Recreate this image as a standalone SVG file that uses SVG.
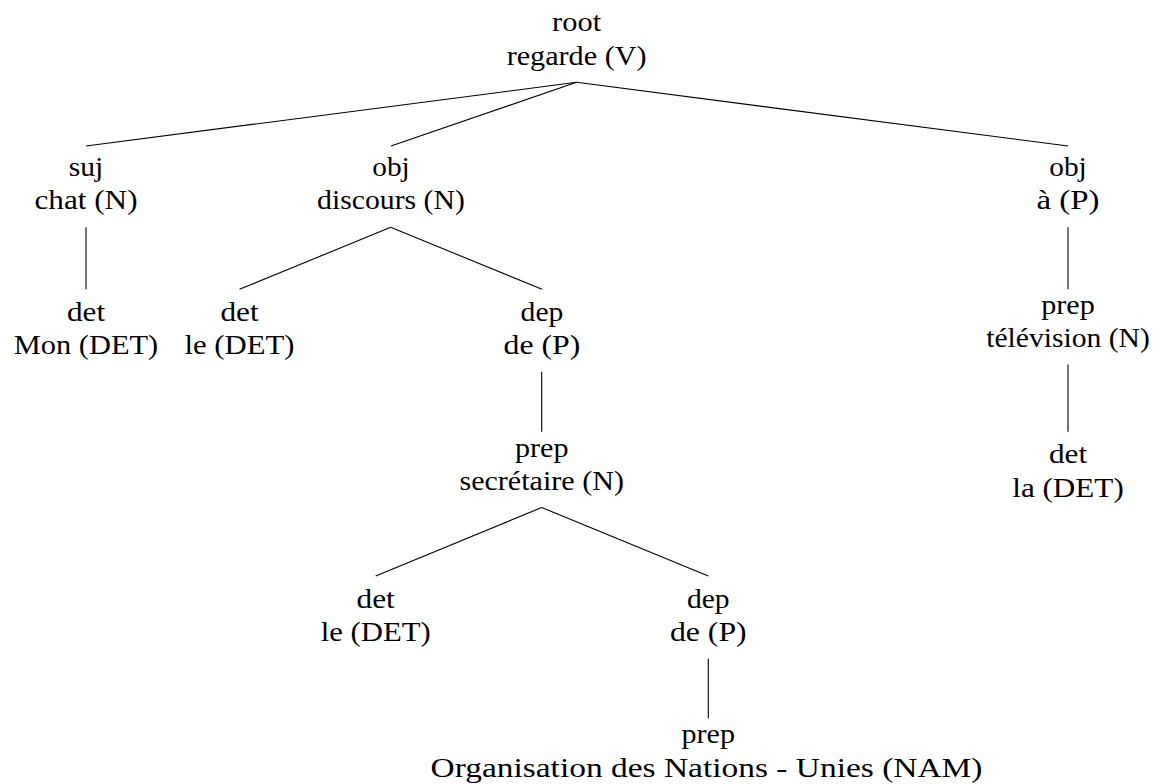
<svg xmlns="http://www.w3.org/2000/svg" width="1153" height="784" viewBox="0 0 1153 784">
  <style>
    text { font-family: "Liberation Serif", "Times New Roman", serif; font-size: 27.5px; fill: #000; text-anchor: middle; }
    .edge { stroke: #000; stroke-width: 1.1; fill: none; stroke-linecap: butt; }
  </style>
  <rect width="1153" height="784" fill="#fff"/>

  <!-- tree edges: parent.south to child.north -->
  <g id="connectors">
    <line class="edge" x1="576.6" y1="82.3" x2="86" y2="146"/>
    <line class="edge" x1="576.6" y1="82.3" x2="391" y2="146"/>
    <line class="edge" x1="576.6" y1="82.3" x2="1068" y2="146"/>
    <line class="edge" x1="86" y1="227.3" x2="86" y2="289.3"/>
    <line class="edge" x1="390.7" y1="227.3" x2="239.5" y2="289.3"/>
    <line class="edge" x1="390.7" y1="227.3" x2="542" y2="289.3"/>
    <line class="edge" x1="1068" y1="227.3" x2="1068" y2="289.3"/>
    <line class="edge" x1="541.7" y1="371.7" x2="541.7" y2="431.7"/>
    <line class="edge" x1="1068" y1="364.5" x2="1068" y2="431.7"/>
    <line class="edge" x1="541.7" y1="507.5" x2="375.7" y2="576"/>
    <line class="edge" x1="541.7" y1="507.5" x2="708.3" y2="576"/>
    <line class="edge" x1="708.3" y1="658.4" x2="708.3" y2="718.4"/>
  </g>

  <!-- nodes: relation label over word (category) -->
  <g id="n-root">
    <text x="576.6" y="31" textLength="49" lengthAdjust="spacingAndGlyphs">root</text>
    <text x="576.6" y="64.5" textLength="139.9" lengthAdjust="spacingAndGlyphs">regarde (V)</text>
  </g>
  <g id="n-chat">
    <text x="86" y="175.5" textLength="34.5" lengthAdjust="spacingAndGlyphs">suj</text>
    <text x="86" y="209" textLength="103.1" lengthAdjust="spacingAndGlyphs">chat (N)</text>
  </g>
  <g id="n-discours">
    <text x="391" y="176" textLength="37.5" lengthAdjust="spacingAndGlyphs">obj</text>
    <text x="391" y="209" textLength="147.8" lengthAdjust="spacingAndGlyphs">discours (N)</text>
  </g>
  <g id="n-a">
    <text x="1068" y="176" textLength="37.5" lengthAdjust="spacingAndGlyphs">obj</text>
    <text x="1068" y="209" textLength="63" lengthAdjust="spacingAndGlyphs">à (P)</text>
  </g>
  <g id="n-mon">
    <text x="86" y="321" textLength="38.2" lengthAdjust="spacingAndGlyphs">det</text>
    <text x="86" y="354.3" textLength="144.4" lengthAdjust="spacingAndGlyphs">Mon (DET)</text>
  </g>
  <g id="n-le1">
    <text x="239.5" y="321" textLength="38.2" lengthAdjust="spacingAndGlyphs">det</text>
    <text x="239.5" y="354.3" textLength="110" lengthAdjust="spacingAndGlyphs">le (DET)</text>
  </g>
  <g id="n-de1">
    <text x="542" y="321" textLength="42.8" lengthAdjust="spacingAndGlyphs">dep</text>
    <text x="542" y="354.3" textLength="76.8" lengthAdjust="spacingAndGlyphs">de (P)</text>
  </g>
  <g id="n-television">
    <text x="1068" y="313.5" textLength="53.6" lengthAdjust="spacingAndGlyphs">prep</text>
    <text x="1068" y="347" textLength="163.6" lengthAdjust="spacingAndGlyphs">télévision (N)</text>
  </g>
  <g id="n-secretaire">
    <text x="541.7" y="456.7" textLength="53.6" lengthAdjust="spacingAndGlyphs">prep</text>
    <text x="541.7" y="490" textLength="164.5" lengthAdjust="spacingAndGlyphs">secrétaire (N)</text>
  </g>
  <g id="n-la">
    <text x="1068" y="463.3" textLength="38.2" lengthAdjust="spacingAndGlyphs">det</text>
    <text x="1068" y="496.7" textLength="111.5" lengthAdjust="spacingAndGlyphs">la (DET)</text>
  </g>
  <g id="n-le2">
    <text x="375.7" y="607.7" textLength="38.2" lengthAdjust="spacingAndGlyphs">det</text>
    <text x="375.7" y="641" textLength="110" lengthAdjust="spacingAndGlyphs">le (DET)</text>
  </g>
  <g id="n-de2">
    <text x="708.3" y="607.7" textLength="42.8" lengthAdjust="spacingAndGlyphs">dep</text>
    <text x="708.3" y="641" textLength="76.8" lengthAdjust="spacingAndGlyphs">de (P)</text>
  </g>
  <g id="n-onu">
    <text x="708.3" y="743.4" textLength="53.6" lengthAdjust="spacingAndGlyphs">prep</text>
    <text x="706.5" y="776.7" textLength="552" lengthAdjust="spacingAndGlyphs">Organisation des Nations - Unies (NAM)</text>
  </g>
</svg>
